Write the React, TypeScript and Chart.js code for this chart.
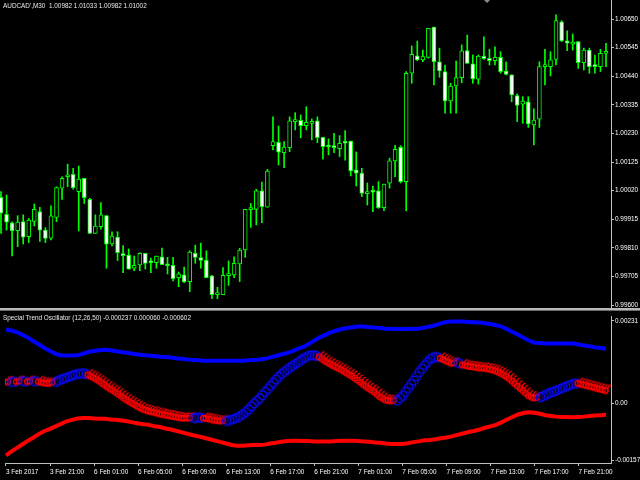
import { useEffect, useRef } from 'react';
import { Chart, registerables } from 'chart.js';

Chart.register(...registerables);

// AUDCAD M30 candles (bar 0 = 3 Feb 17:00)
const opens = [
  0.99995, 0.99933, 0.99902, 0.99873, 0.99906, 0.99851, 0.99907, 0.99943, 0.99875, 0.99845,
  0.99922, 1.00029, 1.00071, 1.0008, 1.00016, 1.00065, 0.99988, 0.99863, 0.99888, 0.99928,
  0.99824, 0.99849, 0.99788, 0.99783, 0.99735, 0.99747, 0.9979, 0.99758, 0.99755, 0.99777,
  0.9975, 0.99746, 0.997, 0.99711, 0.99686, 0.9979, 0.99774, 0.99765, 0.99707, 0.99638,
  0.99638, 0.99708, 0.9971, 0.99751, 0.99802, 0.9995, 0.99951, 1.00019, 0.99959, 1.00185,
  1.00197, 1.00159, 1.00178, 1.00273, 1.00278, 1.00258, 1.00267, 1.00276, 1.00216, 1.00184,
  1.00185, 1.00174, 1.002, 1.00202, 1.00096, 1.00084, 1.00009, 1.00019, 1.00019, 0.99957,
  1.00047, 1.00129, 1.00179, 1.00053, 1.00451, 1.00515, 1.005, 1.00509, 1.0062, 1.00493,
  1.00457, 1.00349, 1.00404, 1.00435, 1.00534, 1.00485, 1.00429, 1.00514, 1.00506, 1.00497,
  1.00509, 1.00459, 1.00445, 1.00369, 1.00337, 1.00346, 1.00261, 1.00282, 1.00475, 1.00475,
  1.00502, 1.0064, 1.0057, 1.00558, 1.00567, 1.0049, 1.00536, 1.00478, 1.00475, 1.00524,
];
const highs = [
  1.00016, 1.00004, 0.99905, 0.99928, 0.99931, 0.99918, 0.99971, 0.99959, 0.99884, 0.99964,
  1.00034, 1.00071, 1.00117, 1.00102, 1.0011, 1.00065, 0.99992, 0.99931, 0.99976, 0.99928,
  0.99869, 0.99869, 0.99818, 0.99806, 0.9978, 0.99792, 0.9979, 0.99772, 0.9978, 0.99809,
  0.99775, 0.99775, 0.99721, 0.99739, 0.99799, 0.9982, 0.99827, 0.99799, 0.99709, 0.99665,
  0.99737, 0.99762, 0.99777, 0.99808, 0.99951, 0.99973, 1.00025, 1.00051, 1.00098, 1.00291,
  1.00257, 1.002, 1.00291, 1.00306, 1.00298, 1.00328, 1.00283, 1.00291, 1.00216, 1.0021,
  1.0023, 1.00222, 1.0024, 1.00202, 1.00162, 1.00102, 1.00048, 1.00037, 1.00053, 1.00044,
  1.00139, 1.00186, 1.00185, 1.00457, 1.00551, 1.00569, 1.00536, 1.00616, 1.0062, 1.00543,
  1.00481, 1.00414, 1.00496, 1.00555, 1.00591, 1.00518, 1.00518, 1.00585, 1.00539, 1.00548,
  1.0053, 1.00493, 1.00445, 1.00375, 1.00365, 1.00365, 1.0032, 1.00493, 1.00539, 1.0053,
  1.00665, 1.00644, 1.00607, 1.00595, 1.00567, 1.00543, 1.00543, 1.00518, 1.00539, 1.00561,
];
const lows = [
  0.99863, 0.99875, 0.9978, 0.99814, 0.99824, 0.99829, 0.9989, 0.99833, 0.99829, 0.99839,
  0.99906, 0.99988, 1.00034, 1.00025, 0.99872, 0.99973, 0.99863, 0.99863, 0.99878, 0.99735,
  0.99817, 0.99763, 0.99719, 0.99732, 0.99726, 0.99726, 0.99732, 0.99719, 0.99735, 0.99748,
  0.99714, 0.99688, 0.99667, 0.99682, 0.99649, 0.99753, 0.99735, 0.997, 0.99623, 0.99623,
  0.99638, 0.99672, 0.997, 0.99686, 0.99775, 0.99885, 0.99894, 0.99902, 0.99959, 1.00169,
  1.00114, 1.00104, 1.00163, 1.00243, 1.00214, 1.00243, 1.00206, 1.00196, 1.00135, 1.00151,
  1.00159, 1.00145, 1.00132, 1.00074, 1.00037, 0.99998, 0.99967, 0.99943, 0.99955, 0.99946,
  1.00029, 1.00071, 1.00048, 0.99946, 1.00414, 1.00497, 1.00493, 1.00506, 1.00408, 1.00436,
  1.00304, 1.00304, 1.00304, 1.00416, 1.00487, 1.00414, 1.00411, 1.00502, 1.00481, 1.00481,
  1.00451, 1.00445, 1.00346, 1.00273, 1.00267, 1.00252, 1.00188, 1.00252, 1.00408, 1.00441,
  1.00481, 1.00567, 1.00534, 1.00536, 1.00469, 1.00463, 1.00451, 1.00451, 1.00457, 1.00475,
];
const closes = [
  0.99937, 0.99904, 0.99873, 0.99904, 0.99849, 0.99912, 0.99951, 0.99875, 0.99844, 0.99927,
  1.00031, 1.00065, 1.00077, 1.00031, 1.00062, 0.99994, 0.99863, 0.9989, 0.99931, 0.99823,
  0.99853, 0.99792, 0.99781, 0.99732, 0.99746, 0.9979, 0.99753, 0.99755, 0.9978, 0.99748,
  0.99744, 0.99697, 0.99714, 0.99685, 0.99794, 0.99775, 0.99764, 0.997, 0.99638, 0.99643,
  0.99709, 0.99715, 0.99753, 0.99802, 0.99951, 0.99953, 1.00019, 0.99961, 1.00092, 1.002,
  1.00161, 1.0018, 1.00276, 1.00278, 1.00258, 1.00271, 1.00272, 1.00214, 1.00181, 1.0018,
  1.00178, 1.00194, 1.00194, 1.00092, 1.00084, 1.0001, 1.00016, 1.00014, 0.99957, 1.00044,
  1.00129, 1.00172, 1.00053, 1.00451, 1.0052, 1.005, 1.00512, 1.00616, 1.00493, 1.00459,
  1.00349, 1.00404, 1.00435, 1.00533, 1.00487, 1.0043, 1.00514, 1.00504, 1.00497, 1.00509,
  1.00457, 1.00447, 1.00371, 1.00333, 1.00349, 1.00265, 1.00279, 1.00475, 1.00478, 1.005,
  1.00644, 1.0057, 1.00561, 1.00565, 1.0049, 1.00536, 1.00475, 1.00475, 1.00524, 1.00528,
];

// Special Trend Oscillator (12,26,50)
const upperBand = [
  0.00207, 0.00204, 0.00199, 0.00192, 0.00184, 0.00174, 0.00165, 0.00155, 0.00147, 0.00139,
  0.00135, 0.00134, 0.00134, 0.00135, 0.00139, 0.00145, 0.00147, 0.00149, 0.0015, 0.00149,
  0.00146, 0.00144, 0.00142, 0.00139, 0.00137, 0.00135, 0.00134, 0.00133, 0.00131, 0.0013,
  0.00129, 0.00126, 0.00125, 0.00123, 0.00122, 0.00121, 0.0012, 0.0012, 0.0012, 0.0012,
  0.0012, 0.0012, 0.0012, 0.0012, 0.00121, 0.00122, 0.00123, 0.00125, 0.00129, 0.00133,
  0.00137, 0.00141, 0.00146, 0.00153, 0.00158, 0.00166, 0.00176, 0.00185, 0.00192, 0.00199,
  0.00204, 0.00208, 0.00211, 0.00213, 0.00215, 0.00215, 0.00213, 0.00212, 0.00211, 0.00209,
  0.00209, 0.00208, 0.00208, 0.00208, 0.00209, 0.00209, 0.00212, 0.00215, 0.00219, 0.00224,
  0.00228, 0.00229, 0.00229, 0.00229, 0.00228, 0.00227, 0.00226, 0.00224, 0.00222, 0.00219,
  0.00215, 0.00208, 0.002, 0.00192, 0.00184, 0.00176, 0.0017, 0.00169, 0.00168, 0.00168,
  0.00168, 0.00168, 0.00168, 0.00168, 0.00165, 0.00162, 0.0016, 0.00157, 0.00155, 0.00153,
];
const lowerBand = [
  -0.00144, -0.00133, -0.00123, -0.00113, -0.00103, -0.00094, -0.00084, -0.00076, -0.0007, -0.00063,
  -0.00056, -0.00049, -0.00045, -0.00041, -0.0004, -0.0004, -0.00041, -0.00042, -0.00042, -0.00044,
  -0.00045, -0.00047, -0.00049, -0.00052, -0.00055, -0.00057, -0.00059, -0.00063, -0.00065, -0.00069,
  -0.00072, -0.00076, -0.0008, -0.00084, -0.00088, -0.00091, -0.00095, -0.00099, -0.00103, -0.00107,
  -0.00111, -0.00115, -0.00117, -0.00117, -0.00116, -0.00115, -0.00115, -0.00114, -0.00111, -0.00109,
  -0.00106, -0.00104, -0.00103, -0.00103, -0.00104, -0.00104, -0.00105, -0.00105, -0.00105, -0.00105,
  -0.00104, -0.00103, -0.00103, -0.00103, -0.00104, -0.00105, -0.00106, -0.00108, -0.00109, -0.00111,
  -0.00112, -0.00112, -0.00112, -0.0011, -0.00107, -0.00105, -0.00102, -0.00101, -0.00099, -0.00096,
  -0.00094, -0.00091, -0.00087, -0.00083, -0.00079, -0.00076, -0.00072, -0.00067, -0.00063, -0.00059,
  -0.00052, -0.00044, -0.00037, -0.0003, -0.00026, -0.00024, -0.00025, -0.00028, -0.00032, -0.00034,
  -0.00036, -0.00037, -0.00037, -0.00038, -0.00037, -0.00036, -0.00034, -0.00033, -0.00032, -0.00031,
];
const oscillator = [
  0.00064, 0.00065, 0.00065, 0.00067, 0.00065, 0.00067, 0.00065, 0.00061, 0.0006, 0.00065,
  0.00072, 0.00077, 0.00083, 0.00087, 0.00089, 0.00084, 0.00076, 0.00067, 0.00056, 0.00045,
  0.00036, 0.00025, 0.00014, 0.00005, -0.00004, -0.00012, -0.00017, -0.00021, -0.00025, -0.00028,
  -0.00031, -0.00034, -0.00037, -0.00037, -0.00036, -0.00034, -0.00037, -0.00039, -0.00043, -0.00045,
  -0.00044, -0.0004, -0.00034, -0.00025, -0.00012, 0.00005, 0.00019, 0.00037, 0.00054, 0.00072,
  0.00087, 0.00099, 0.0011, 0.0012, 0.00131, 0.00138, 0.00139, 0.00134, 0.00123, 0.00114,
  0.00106, 0.00098, 0.00089, 0.0008, 0.00069, 0.00057, 0.00046, 0.00036, 0.00023, 0.00014,
  0.00011, 0.00013, 0.00026, 0.00048, 0.00069, 0.00092, 0.00112, 0.00129, 0.00135, 0.0013,
  0.00123, 0.00116, 0.00118, 0.00112, 0.00108, 0.00106, 0.00103, 0.00102, 0.00099, 0.00095,
  0.00088, 0.00079, 0.00067, 0.00053, 0.0004, 0.00026, 0.00019, 0.00022, 0.00029, 0.00036,
  0.00041, 0.00048, 0.00054, 0.0006, 0.0006, 0.00056, 0.00052, 0.00048, 0.00044, 0.0004,
];

const priceTicks = [1.0065, 1.00545, 1.0044, 1.00335, 1.0023, 1.00125, 1.0002, 0.99915, 0.9981, 0.99705, 0.996];
const oscTicks = [0.00231, 0, -0.00157];
const timeLabels = [
  '3 Feb 2017', '3 Feb 21:00', '6 Feb 01:00', '6 Feb 05:00', '6 Feb 09:00', '6 Feb 13:00', '6 Feb 17:00',
  '6 Feb 21:00', '7 Feb 01:00', '7 Feb 05:00', '7 Feb 09:00', '7 Feb 13:00', '7 Feb 17:00', '7 Feb 21:00',
];
const barsPerLabel = 8;

const X_MIN = -0.18;
const X_MAX = 109.9;
const PRICE_MIN = 0.99589;
const PRICE_MAX = 1.007198;
const OSC_MIN = -0.001652;
const OSC_MAX = 0.002444;

const FONT = { family: '"Liberation Sans", Arial, sans-serif', size: 6.4 };
const AXIS = '#c0c0c0';
const LIME = '#00ff00';

// one marker = two loops, the second half way towards the next bar
function makeGlyph(rising: boolean, dx: number, dy: number) {
  const half = Math.ceil(Math.max(Math.abs(dx), Math.abs(dy))) + 8;
  const c = document.createElement('canvas');
  c.width = half * 2;
  c.height = half * 2;
  const g = c.getContext('2d')!;
  for (const k of [0, 1]) {
    const cx = half + dx * k;
    const cy = half + dy * k;
    if (rising) {
      g.strokeStyle = '#0a0aff';
      g.lineWidth = 1.1;
      g.beginPath();
      g.arc(cx + 0.5, cy + 1.5, 4.4, 0, Math.PI * 2);
      g.stroke();
    } else {
      g.strokeStyle = '#ff0000';
      g.lineWidth = 1.3;
      g.beginPath();
      g.arc(cx - 0.8, cy + 1.2, 2.7, 0, Math.PI * 2);
      g.stroke();
      g.beginPath();
      g.moveTo(cx + 1.6, cy - 0.2);
      g.quadraticCurveTo(cx + 2, cy - 4, cx + 4.8, cy - 3.8);
      g.stroke();
    }
  }
  return c;
}

export default function App() {
  const topRef = useRef<HTMLCanvasElement>(null);
  const botRef = useRef<HTMLCanvasElement>(null);

  useEffect(() => {
    if (!topRef.current || !botRef.current) return;

    const priceChart = new Chart(topRef.current, {
      type: 'bar',
      data: {
        datasets: [
          {
            label: 'body',
            data: opens.map((o, i) => ({ x: i, y: [o, closes[i]] })) as any,
            backgroundColor: opens.map((o, i) => (closes[i] > o ? '#000000' : '#ffffff')),
            borderColor: LIME,
            borderWidth: 1,
            borderSkipped: false,
            barThickness: 4,
            minBarLength: 2,
            grouped: false,
            order: 0,
          },
          {
            label: 'wick',
            data: lows.map((l, i) => ({ x: i, y: [l, highs[i]] })) as any,
            backgroundColor: LIME,
            barThickness: 1,
            grouped: false,
            order: 1,
          },
        ],
      },
      options: {
        animation: false,
        responsive: true,
        maintainAspectRatio: false,
        events: [],
        layout: { padding: 0 },
        plugins: { legend: { display: false }, tooltip: { enabled: false } },
        scales: {
          x: { type: 'linear', display: false, min: X_MIN, max: X_MAX, offset: false, grid: { offset: false } },
          y: {
            position: 'right',
            min: PRICE_MIN,
            max: PRICE_MAX,
            afterBuildTicks: (s: any) => { s.ticks = priceTicks.map(v => ({ value: v })); },
            afterFit: (s: any) => { s.width = 29; s.paddingTop = 0; s.paddingBottom = 0; },
            ticks: { color: '#ffffff', font: FONT, padding: 1, callback: (v: any) => Number(v).toFixed(5) },
            grid: { drawOnChartArea: false, tickLength: 3, color: AXIS },
            border: { color: AXIS },
          },
        },
      },
    });

    const oscChart = new Chart(botRef.current, {
      type: 'line',
      data: {
        datasets: [
          {
            label: 'osc',
            data: oscillator.map((v, i) => ({ x: i, y: v })),
            showLine: false,
            pointRadius: 4,
            pointStyle: (ctx: any) => {
              const i = ctx.dataIndex;
              const xs = ctx.chart.scales.x;
              const ys = ctx.chart.scales.y;
              const rising = i > 0 && oscillator[i] > oscillator[i - 1];
              let dx = 0;
              let dy = 0;
              if (xs && ys && i < oscillator.length - 1) {
                dx = (xs.getPixelForValue(i + 1) - xs.getPixelForValue(i)) / 2;
                dy = (ys.getPixelForValue(oscillator[i + 1]) - ys.getPixelForValue(oscillator[i])) / 2;
              }
              return makeGlyph(rising, dx, dy);
            },
            order: 0,
          },
          {
            label: 'upper',
            data: upperBand.map((v, i) => ({ x: i, y: v })),
            borderColor: '#0000ff',
            borderWidth: 4,
            pointRadius: 0,
            order: 1,
          },
          {
            label: 'lower',
            data: lowerBand.map((v, i) => ({ x: i, y: v })),
            borderColor: '#ff0000',
            borderWidth: 4,
            pointRadius: 0,
            order: 1,
          },
        ],
      },
      options: {
        animation: false,
        responsive: true,
        maintainAspectRatio: false,
        events: [],
        layout: { padding: 0 },
        plugins: { legend: { display: false }, tooltip: { enabled: false } },
        scales: {
          x: {
            type: 'linear',
            min: X_MIN,
            max: X_MAX,
            offset: false,
            afterBuildTicks: (s: any) => { s.ticks = timeLabels.map((_, k) => ({ value: k * barsPerLabel })); },
            afterFit: (s: any) => { s.height = 17; s.paddingLeft = 0; s.paddingRight = 0; },
            ticks: {
              color: '#ffffff',
              font: FONT,
              align: 'start',
              autoSkip: false,
              maxRotation: 0,
              padding: 2,
              callback: (_v: any, i: number) => timeLabels[i],
            },
            grid: { drawOnChartArea: false, tickLength: 3, color: AXIS },
            border: { color: AXIS },
          },
          y: {
            position: 'right',
            min: OSC_MIN,
            max: OSC_MAX,
            afterBuildTicks: (s: any) => { s.ticks = oscTicks.map(v => ({ value: v })); },
            afterFit: (s: any) => { s.width = 29; s.paddingTop = 0; s.paddingBottom = 0; },
            ticks: {
              color: '#ffffff',
              font: FONT,
              padding: 1,
              callback: (v: any) => (Number(v) === 0 ? '0.00' : Number(v).toFixed(5)),
            },
            grid: { drawOnChartArea: false, tickLength: 3, color: AXIS },
            border: { color: AXIS },
          },
        },
      },
    });

    return () => {
      priceChart.destroy();
      oscChart.destroy();
    };
  }, []);

  const label: React.CSSProperties = {
    position: 'absolute',
    left: 3,
    color: '#e8e8e8',
    fontFamily: '"Liberation Sans", Arial, sans-serif',
    fontSize: 6.4,
    lineHeight: '8px',
    whiteSpace: 'pre',
  };

  return (
    <div style={{ position: 'fixed', left: 0, top: 0, width: 640, height: 480, background: '#000', overflow: 'hidden' }}>
      <div style={{ position: 'absolute', left: 0, top: 0, width: 640, height: 308 }}>
        <canvas ref={topRef} />
      </div>
      <div style={{ position: 'absolute', left: 0, top: 311, width: 640, height: 169 }}>
        <canvas ref={botRef} />
      </div>
      <div style={{ position: 'absolute', left: 0, top: 308, width: 640, height: 2, background: '#b8b8b8' }} />
      <div style={{ position: 'absolute', left: 0, top: 310, width: 640, height: 1, background: '#6a6a6a' }} />
      <div
        style={{
          position: 'absolute', left: 484, top: 0, width: 0, height: 0,
          borderLeft: '3px solid transparent', borderRight: '3px solid transparent', borderTop: '3px solid #8a8a8a',
        }}
      />
      <div style={{ ...label, top: 2 }}>{"AUDCAD',M30  1.00982 1.01033 1.00982 1.01002"}</div>
      <div style={{ ...label, top: 314 }}>{'Special Trend Oscillator (12,26,50) -0.000237 0.000060 -0.000602'}</div>
    </div>
  );
}
